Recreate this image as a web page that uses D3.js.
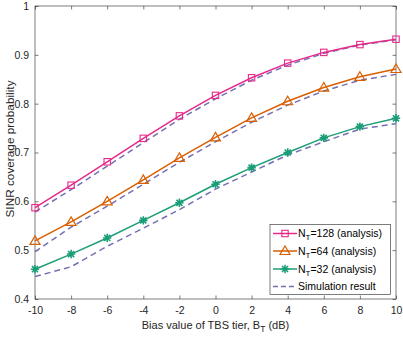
<!DOCTYPE html>
<html><head><meta charset="utf-8">
<script src="https://cdn.jsdelivr.net/npm/d3@7"></script>
<style>body{margin:0;background:#fff;} svg{display:block;font-family:"Liberation Sans",Arial,sans-serif;}</style>
</head><body>
<script>
const xValues = [-10,-8,-6,-4,-2,0,2,4,6,8,10];
const ana128 = [0.587,0.633,0.681,0.729,0.775,0.817,0.853,0.883,0.905,0.921,0.932];
const ana64  = [0.519,0.558,0.600,0.644,0.689,0.731,0.771,0.805,0.833,0.855,0.871];
const ana32  = [0.461,0.492,0.525,0.561,0.597,0.635,0.669,0.700,0.730,0.753,0.770];
const sim128 = [0.578,0.624,0.672,0.720,0.768,0.810,0.848,0.879,0.903,0.920,0.931];
const sim64  = [0.497,0.547,0.590,0.635,0.680,0.722,0.762,0.797,0.826,0.848,0.860];
const sim32  = [0.446,0.466,0.508,0.545,0.583,0.625,0.660,0.695,0.722,0.748,0.759];
const xTicks = [-10,-8,-6,-4,-2,0,2,4,6,8,10];
const yTicks = [0.4,0.5,0.6,0.7,0.8,0.9,1];
const legendLabels = ["128","64","32"];

const W=403,H=337;
const m={l:35,r:7,t:6,b:38};
const svg=d3.select("body").append("svg").attr("width",W).attr("height",H);
const x=d3.scaleLinear().domain([-10,10]).range([m.l,W-m.r]);
const y=d3.scaleLinear().domain([0.4,1]).range([H-m.b,m.t]);
const axisCol="#262626";

// box
svg.append("rect").attr("x",m.l).attr("y",m.t).attr("width",W-m.r-m.l).attr("height",H-m.b-m.t)
  .attr("fill","none").attr("stroke",axisCol).attr("stroke-width",0.6);

function styleAxis(g){
  g.select(".domain").remove();
  g.selectAll("line").attr("stroke",axisCol).attr("stroke-width",0.6);
  g.selectAll("text").attr("fill",axisCol).style("font-size","10.5px");
}
svg.append("g").attr("transform",`translate(0,${H-m.b})`)
  .call(d3.axisBottom(x).tickValues(xTicks).tickSize(-3.5).tickPadding(8).tickFormat(d=>d<0?"-"+Math.abs(d):d))
  .call(styleAxis);
svg.append("g").attr("transform",`translate(0,${m.t})`)
  .call(d3.axisTop(x).tickValues(xTicks).tickSize(-3.5).tickFormat(""))
  .call(styleAxis);
svg.append("g").attr("transform",`translate(${m.l},0)`)
  .call(d3.axisLeft(y).tickValues(yTicks).tickSize(-3.5).tickPadding(6).tickFormat(d=>d===1?"1":d3.format(".1f")(d)))
  .call(styleAxis);
svg.append("g").attr("transform",`translate(${W-m.r},0)`)
  .call(d3.axisRight(y).tickValues(yTicks).tickSize(-3.5).tickFormat(""))
  .call(styleAxis);

const colors=["#e7298a","#d95f02","#1b9e77"];
const simCol="#7570b3";
const line=d3.line().x((d,i)=>x(xValues[i])).y(d=>y(d));

[sim128,sim64,sim32].forEach(s=>{
  svg.append("path").attr("d",line(s)).attr("fill","none").attr("stroke",simCol)
    .attr("stroke-width",1.5).attr("stroke-dasharray","6,4");
});

function marker(g,type,cx,cy,col){
  if(type===0){
    g.append("rect").attr("x",cx-3.2).attr("y",cy-3.2).attr("width",6.4).attr("height",6.4)
     .attr("fill","none").attr("stroke",col).attr("stroke-width",1.1);
  } else if(type===1){
    const r=5;
    g.append("path").attr("d",`M${cx},${cy-r}L${cx+r},${cy+r*0.7}L${cx-r},${cy+r*0.7}Z`)
     .attr("fill","none").attr("stroke",col).attr("stroke-width",1.2);
  } else {
    const r=4.2, d=r*0.72;
    g.append("path").attr("d",`M${cx-r},${cy}L${cx+r},${cy}M${cx},${cy-r}L${cx},${cy+r}M${cx-d},${cy-d}L${cx+d},${cy+d}M${cx-d},${cy+d}L${cx+d},${cy-d}`)
     .attr("stroke",col).attr("stroke-width",1.6);
  }
}
[ana128,ana64,ana32].forEach((s,k)=>{
  svg.append("path").attr("d",line(s)).attr("fill","none").attr("stroke",colors[k]).attr("stroke-width",1.5);
  const g=svg.append("g");
  s.forEach((v,i)=>marker(g,k,x(xValues[i]),y(v),colors[k]));
});

// legend
const lg=svg.append("g");
lg.append("rect").attr("x",270).attr("y",224.5).attr("width",120.5).attr("height",70)
  .attr("fill","#fff").attr("stroke",axisCol).attr("stroke-width",0.6);
const rowsY=[233.5,251,269,286.5];
legendLabels.forEach((lab,k)=>{
  const yy=rowsY[k];
  lg.append("line").attr("x1",273).attr("x2",297).attr("y1",yy).attr("y2",yy).attr("stroke",colors[k]).attr("stroke-width",1.5);
  marker(lg,k,285,yy,colors[k]);
  const t=lg.append("text").attr("x",298).attr("y",yy+3.8).attr("fill","#000").style("font-size","10.5px");
  t.append("tspan").text("N");
  t.append("tspan").attr("dy",3).style("font-size","8px").text("T");
  t.append("tspan").attr("dy",-3).text("="+lab+" (analysis)");
});
lg.append("line").attr("x1",273).attr("x2",297).attr("y1",rowsY[3]).attr("y2",rowsY[3]).attr("stroke",simCol)
  .attr("stroke-width",1.5).attr("stroke-dasharray","5,3");
lg.append("text").attr("x",298).attr("y",rowsY[3]+3.8).attr("fill","#000").style("font-size","10.5px").text("Simulation result");

// axis labels
const xl=svg.append("text").attr("x",215.5).attr("y",328.5).attr("text-anchor","middle")
  .attr("fill",axisCol).style("font-size","11px");
xl.append("tspan").text("Bias value of TBS tier, B");
xl.append("tspan").attr("dy",3).style("font-size","8.5px").text("T");
xl.append("tspan").attr("dy",-3).text(" (dB)");
svg.append("text").attr("transform",`translate(14,149) rotate(-90)`).attr("text-anchor","middle")
  .attr("fill",axisCol).style("font-size","11.8px").text("SINR coverage probability");
</script>
</body></html>
